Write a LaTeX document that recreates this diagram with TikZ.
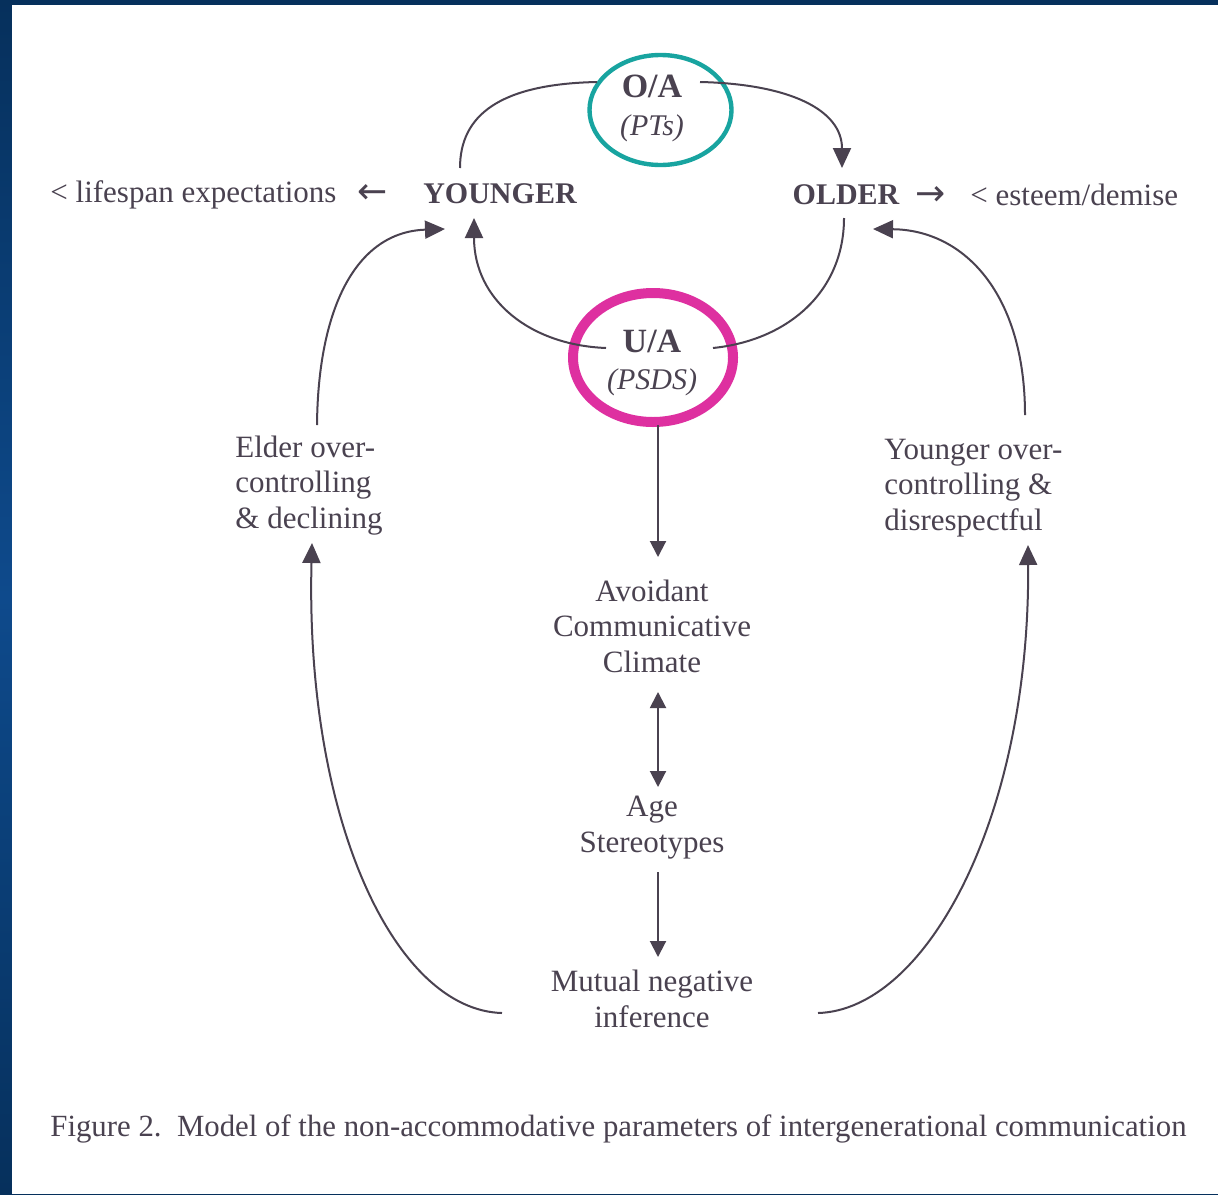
\documentclass[tikz,border=0pt]{standalone}
\usepackage{fontspec}
\setmainfont{Liberation Serif}
\newfontfamily\arrowglyph{DejaVu Sans}
\usetikzlibrary{arrows.meta,shapes.geometric}
\definecolor{ink}{RGB}{74,66,80}
\definecolor{framedark}{RGB}{6,48,92}
\definecolor{framemid}{RGB}{14,74,140}
\definecolor{ringteal}{RGB}{24,164,160}
\definecolor{ringpink}{RGB}{222,48,160}
\begin{document}
\begin{tikzpicture}[x=0.5pt,y=-0.5pt,
  lbl/.style={text=ink,inner sep=0pt,font=\fontsize{15.5}{17.75}\selectfont},
  head/.style={text=ink,inner sep=0pt,font=\bfseries\fontsize{15}{18}\selectfont},
  tag/.style={text=ink,inner sep=0pt,font=\bfseries\fontsize{17}{20}\selectfont},
  sub/.style={text=ink,inner sep=0pt,font=\itshape\fontsize{15}{18}\selectfont},
  glyph/.style={text=ink,inner sep=0pt,font=\arrowglyph\fontsize{18}{20}\selectfont},
  ring/.style={ellipse,draw,inner sep=0pt},
  flow/.style={draw=ink,line width=1pt},
  tip/.style={-{Triangle[length=10pt,width=9pt]}},
  smalltip/.style={-{Triangle[length=8pt,width=8pt]}},
]
% frame and paper
\useasboundingbox (0,0) rectangle (1218,1194);
\shade[top color=framedark,bottom color=framedark,middle color=framemid] (0,0) rectangle (1218,1194);
\fill[white] (12,5) rectangle (1218,1194);

% highlighted rings
\node[ring,draw=ringteal,line width=2.2pt,minimum width=71pt,minimum height=55pt] (oaring) at (660.5,110) {};
\node[ring,draw=ringpink,line width=5pt,minimum width=80pt,minimum height=64.5pt] (uaring) at (653,357.5) {};

% labels (multi-line nodes are anchored on the baseline of their last line)
\node[tag,anchor=base] (oa) at (652,97) {O/A};
\node[sub,anchor=base] (pts) at (652,135) {(PTs)};
\node[tag,anchor=base] (ua) at (652,352) {U/A};
\node[sub,anchor=base] (psds) at (652,389) {(PSDS)};

\node[head,anchor=base] (young) at (500,203) {YOUNGER};
\node[head,anchor=base] (old) at (846,204) {OLDER};
\node[glyph,anchor=base] (larr) at (373,203) {←};
\node[glyph,anchor=base] (rarr) at (931,205) {→};
\node[lbl,anchor=base west] (life) at (50,202) {< lifespan expectations};
\node[lbl,anchor=base west] (esteem) at (970,205) {< esteem/demise};

\node[lbl,anchor=base west,align=left] (elder) at (235,528) {Elder over-\\controlling\\\& declining};
\node[lbl,anchor=base west,align=left] (yover) at (884,530) {Younger over-\\controlling \&\\disrespectful};
\node[lbl,anchor=base,align=center] (climate) at (652,672) {Avoidant\\Communicative\\Climate};
\node[lbl,anchor=base,align=center] (stereo) at (652,852) {Age\\Stereotypes};
\node[lbl,anchor=base,align=center] (mutual) at (652,1027) {Mutual negative\\inference};

\node[lbl,anchor=base west,font=\fontsize{15.4}{17}\selectfont] (caption) at (50,1136)
  {Figure 2.\ \ Model of the non-accommodative parameters of intergenerational communication};

% connector end points
\coordinate (oaL) at (597,82);
\coordinate (oaR) at (700,82);
\coordinate (uaL) at (606,348);
\coordinate (uaR) at (713,348);
\coordinate (uaBot) at (658,425);
\coordinate (youngTop) at (460,168);
\coordinate (youngBot) at (474,218);
\coordinate (youngSide) at (445,229);
\coordinate (oldTop) at (842,168);
\coordinate (oldBot) at (844,218);
\coordinate (oldSide) at (873,229);
\coordinate (elderTop) at (317,425);
\coordinate (elderBot) at (312,543);
\coordinate (yoverTop) at (1025,415);
\coordinate (yoverBot) at (1028,545);
\coordinate (climTop) at (658,557);
\coordinate (climBot) at (658,692);
\coordinate (stereoTop) at (658,787);
\coordinate (stereoBot) at (658,872);
\coordinate (mutTop) at (658,957);
\coordinate (mutL) at (502,1013);
\coordinate (mutR) at (818,1013);

% upper loop
\draw[flow] (oaL) .. controls (500,84) and (460,115) .. (youngTop);
\draw[flow,tip] (oaR) .. controls (790,84) and (842,110) .. (oldTop);
\draw[flow,tip] (uaL) .. controls (530,345) and (474,300) .. (youngBot);
\draw[flow] (uaR) .. controls (790,340) and (844,290) .. (oldBot);

% central chain
\draw[flow,smalltip] (uaBot) -- (climTop);
\draw[flow,{Triangle[length=8pt,width=8pt]}-{Triangle[length=8pt,width=8pt]}] (climBot) -- (stereoTop);
\draw[flow,smalltip] (stereoBot) -- (mutTop);

% outer loops
\draw[flow,tip] (mutL) .. controls (395,1010) and (305,820) .. (elderBot);
\draw[flow,tip] (elderTop) .. controls (318,310) and (355,232) .. (youngSide);
\draw[flow,tip] (mutR) .. controls (925,1010) and (1030,820) .. (yoverBot);
\draw[flow,tip] (yoverTop) .. controls (1025,295) and (965,230) .. (oldSide);
\end{tikzpicture}
\end{document}
